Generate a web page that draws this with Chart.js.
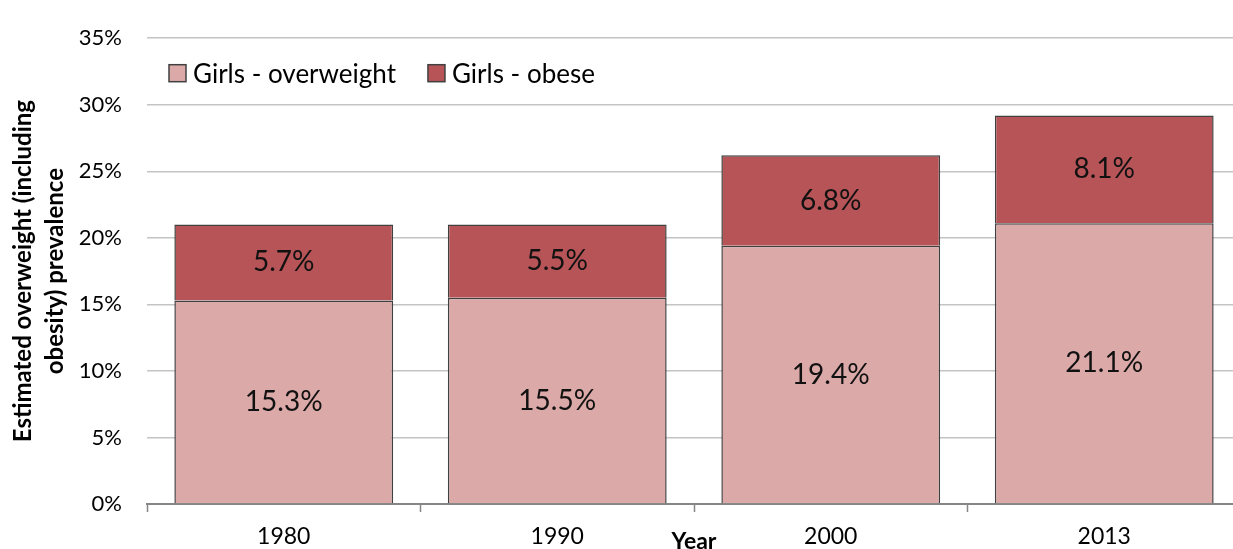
<!DOCTYPE html>
<html>
<head>
<meta charset="utf-8">
<script src="https://cdn.jsdelivr.net/npm/chart.js@4.4.1/dist/chart.umd.min.js"></script>
<style>
  html, body { margin: 0; padding: 0; background: #fff; overflow: hidden; }
  #wrap { position: relative; width: 1242px; height: 549px; }
</style>
</head>
<body>
<div id="wrap"><canvas id="chart"></canvas></div>
<script>
// data
const years = ['1980', '1990', '2000', '2013'];
const overweight = [15.3, 15.5, 19.4, 21.1];
const obese = [5.7, 5.5, 6.8, 8.1];
const seriesNames = ['Girls - overweight', 'Girls - obese'];
const yTicks = [0, 5, 10, 15, 20, 25, 30, 35];

const FONT = 'Lato, "Liberation Sans", sans-serif';
const COLORS = ['#dba9a7', '#b65457'];
const EDGE = '#404040';

// helper plugins

// value labels in the middle of each segment
const barLabels = {
    id: 'barLabels',
    afterDatasetsDraw(chart) {
        const ctx = chart.ctx;
        ctx.save();
        ctx.font = '28px ' + FONT;
        ctx.fillStyle = '#111';
        ctx.textAlign = 'center';
        ctx.textBaseline = 'middle';
        chart.data.datasets.forEach(function(ds, i) {
            chart.getDatasetMeta(i).data.forEach(function(bar, j) {
                const mid = (bar.y + bar.base) / 2;
                ctx.fillText(ds.data[j].toFixed(1) + '%', bar.x, mid);
            });
        });
        ctx.restore();
    }
};

// horizontal legend sitting inside the plot area, top left
const innerLegend = {
    id: 'innerLegend',
    afterDraw(chart) {
        const ctx = chart.ctx;
        const area = chart.chartArea;
        let x = area.left + 22;
        const cy = area.top + 35;
        const box = 17;
        ctx.save();
        ctx.font = '26px ' + FONT;
        ctx.textBaseline = 'middle';
        ctx.textAlign = 'left';
        chart.data.datasets.forEach(function(ds) {
            ctx.fillStyle = ds.backgroundColor;
            ctx.fillRect(x, cy - box / 2, box, box);
            ctx.strokeStyle = EDGE;
            ctx.lineWidth = 1.5;
            ctx.strokeRect(x, cy - box / 2, box, box);
            ctx.fillStyle = '#000';
            ctx.fillText(ds.label, x + box + 7, cy + 1);
            x += box + 7 + ctx.measureText(ds.label).width + 32;
        });
        ctx.restore();
    }
};

// "Year" title, centred under the plot on the tick label row
const yearTitle = {
    id: 'yearTitle',
    afterDraw(chart) {
        const ctx = chart.ctx;
        const area = chart.chartArea;
        ctx.save();
        ctx.font = 'bold 23px ' + FONT;
        ctx.fillStyle = '#000';
        ctx.textAlign = 'center';
        ctx.textBaseline = 'alphabetic';
        ctx.fillText('Year', (area.left + area.right) / 2, area.bottom + 45);
        ctx.restore();
    }
};

const data = {
    labels: years,
    datasets: [{
        label: seriesNames[0],
        data: overweight,
        backgroundColor: COLORS[0],
        borderColor: EDGE,
        borderWidth: 1.5
    }, {
        label: seriesNames[1],
        data: obese,
        backgroundColor: COLORS[1],
        borderColor: EDGE,
        borderWidth: 1.5
    }]
};

const config = {
    type: 'bar',
    data: data,
    options: {
        responsive: true,
        maintainAspectRatio: false,
        animation: false,
        categoryPercentage: 0.8,
        barPercentage: 1.0,
        layout: { padding: { top: 27, right: 1, bottom: 0, left: 0 } },
        plugins: {
            tooltip: { enabled: false },
            legend: { display: false }
        },
        scales: {
            x: {
                stacked: true,
                afterFit(axis) { axis.height = 45; },
                grid: {
                    display: true,
                    offset: true,
                    drawOnChartArea: false,
                    tickLength: 8,
                    tickWidth: 1.5,
                    color: '#868686'
                },
                border: { color: '#868686', width: 2 },
                ticks: {
                    font: { family: FONT, size: 23 },
                    color: '#000',
                    padding: 11
                }
            },
            y: {
                stacked: true,
                min: 0,
                max: 35,
                afterBuildTicks(axis) {
                    axis.ticks = yTicks.map(function(v) { return { value: v }; });
                },
                afterFit(axis) { axis.width = 147; },
                grid: {
                    color: '#c4c4c4',
                    lineWidth: 1.5,
                    drawTicks: false
                },
                border: { display: false },
                ticks: {
                    font: { family: FONT, size: 22 },
                    color: '#000',
                    padding: 25,
                    callback: function(v) { return v + '%'; }
                },
                title: {
                    display: true,
                    text: ['Estimated overweight (including', 'obesity) prevalence'],
                    font: { family: FONT, size: 24, weight: 'bold', lineHeight: 1.3 },
                    color: '#000',
                    padding: { top: 8, bottom: 0 }
                }
            }
        }
    },
    plugins: [barLabels, innerLegend, yearTitle]
};

new Chart(document.getElementById('chart'), config);
</script>
</body>
</html>
